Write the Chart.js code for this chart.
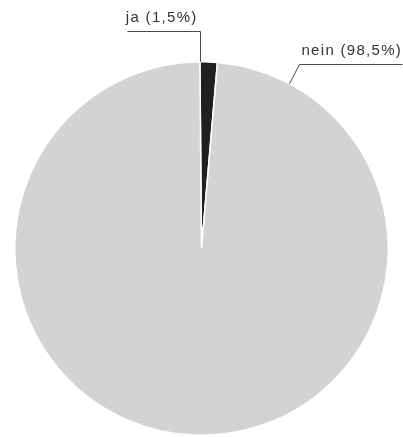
<!DOCTYPE html>
<html>
<head>
<meta charset="utf-8">
<script src="https://cdn.jsdelivr.net/npm/chart.js@4"></script>
<style>
html,body{margin:0;padding:0;background:#fff;}
#wrap{width:403px;height:437px;position:relative;}
</style>
</head>
<body>
<div id="wrap"><canvas id="c"></canvas></div>
<script>
const categories = ['ja', 'nein'];
const shares = [1.5, 98.5];
const labelTexts = ['ja (1,5%)', 'nein (98,5%)'];
const sliceColors = ['#231f20', '#d1d3d4'];

// leader line / label layout per slice (angle offset in degrees, elbow & text offsets)
const labelLayout = [
  { angleDeg: 0.0, elbow: [0, -31], lineEnd: [-73, -31], text: [-74, -44], align: 'left' },
  { angleDeg: 28.1, elbow: [10, -20], lineEnd: [113, -20], text: [12, -33], align: 'left' }
];

const leaderPlugin = {
  id: 'leaders',
  afterDatasetsDraw(chart) {
    const ctx = chart.ctx;
    const meta = chart.getDatasetMeta(0);
    ctx.save();
    meta.data.forEach((arc, i) => {
      const L = labelLayout[i];
      const p = arc.getProps(['x', 'y', 'startAngle', 'outerRadius'], true);
      let ang;
      if (i === 0) ang = p.startAngle + L.angleDeg * Math.PI / 180;
      else ang = -Math.PI / 2 + L.angleDeg * Math.PI / 180;
      const ax = p.x + Math.cos(ang) * p.outerRadius;
      const ay = p.y + Math.sin(ang) * p.outerRadius;
      ctx.strokeStyle = '#4a4a4a';
      ctx.lineWidth = 1;
      ctx.beginPath();
      ctx.moveTo(Math.round(ax) + 0.5, ay);
      ctx.lineTo(Math.round(ax + L.elbow[0]) + 0.5, Math.round(ay + L.elbow[1]) + 0.5);
      ctx.lineTo(Math.round(ax + L.lineEnd[0]) + 0.5, Math.round(ay + L.lineEnd[1]) + 0.5);
      ctx.stroke();
      ctx.fillStyle = '#333333';
      ctx.font = '300 15px "Liberation Sans", Arial, sans-serif';
      ctx.letterSpacing = '1.3px';
      ctx.textAlign = L.align;
      ctx.textBaseline = 'middle';
      ctx.fillText(labelTexts[i], ax + L.text[0], ay + L.text[1]);
    });
    ctx.restore();
  }
};

new Chart(document.getElementById('c'), {
  type: 'pie',
  data: {
    labels: categories,
    datasets: [{
      data: shares,
      backgroundColor: sliceColors,
      borderColor: '#ffffff',
      borderWidth: 1.5
    }]
  },
  options: {
    responsive: true,
    maintainAspectRatio: false,
    animation: false,
    rotation: -0.5,
    layout: { padding: { top: 61, bottom: 1, left: 14, right: 14 } },
    plugins: { legend: { display: false }, tooltip: { enabled: false } }
  },
  plugins: [leaderPlugin]
});
</script>
</body>
</html>
